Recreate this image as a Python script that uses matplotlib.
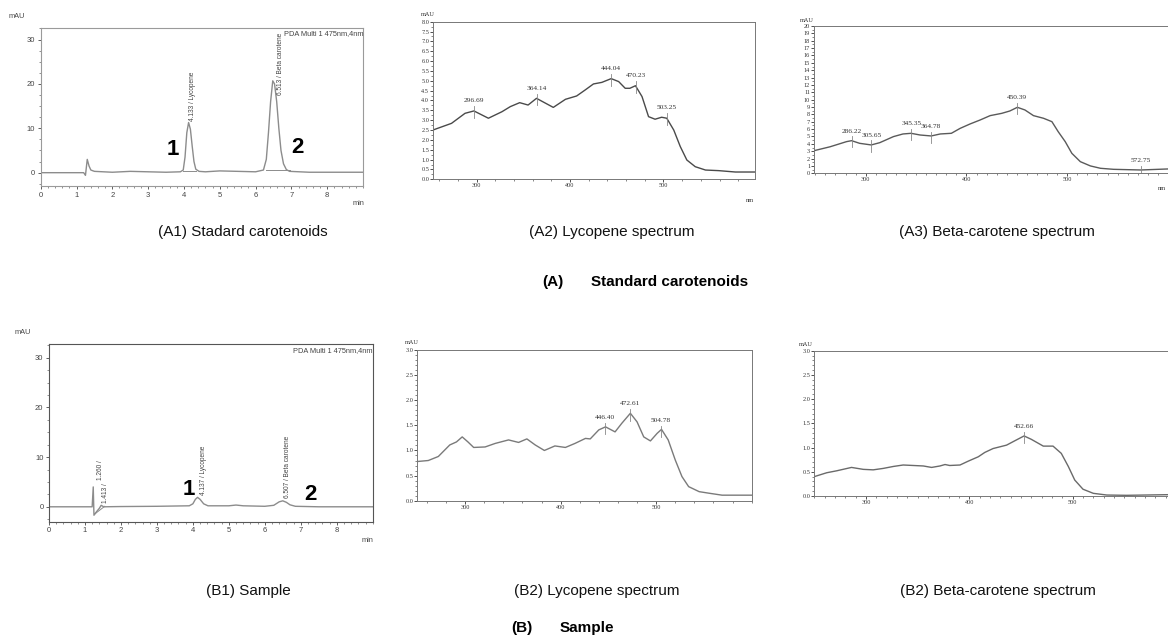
import numpy as np
import matplotlib
matplotlib.use("Agg")
import matplotlib.pyplot as plt
from matplotlib.ticker import MultipleLocator, FormatStrFormatter

# ---- chromatogram data (time in min, signal in mAU) ----
a1_time = [0.0, 1.2, 1.25, 1.3, 1.35, 1.4, 1.5, 2.0, 2.5, 3.0, 3.5, 3.9, 3.98, 4.03, 4.08,
           4.13, 4.18, 4.23, 4.28, 4.33, 4.42, 4.6, 5.0, 5.5, 6.0, 6.22, 6.3, 6.36, 6.42,
           6.48, 6.53, 6.59, 6.65, 6.71, 6.78, 6.86, 6.95, 7.5, 8.0, 9.0]
a1_signal = [0.0, 0.0, -0.6, 3.0, 1.5, 0.6, 0.3, 0.1, 0.3, 0.2, 0.1, 0.2, 0.6, 3.5, 9.0,
             11.3, 9.8, 6.0, 2.5, 0.8, 0.3, 0.2, 0.4, 0.3, 0.2, 0.6, 3.0, 9.0, 16.0,
             20.7, 20.0, 16.0, 10.0, 5.0, 2.0, 0.7, 0.3, 0.1, 0.1, 0.1]
a1_bases = [([3.98, 4.35], [0.4, 0.4]), ([6.28, 6.95], [0.5, 0.5])]

b1_time = [0.0, 1.2, 1.23, 1.25, 1.32, 1.4, 1.45, 1.52, 2.0, 3.0, 3.9, 4.0, 4.07, 4.13,
           4.2, 4.3, 4.42, 5.0, 5.2, 5.4, 6.0, 6.25, 6.4, 6.5, 6.6, 6.7, 6.85, 7.5, 9.0]
b1_signal = [0.0, 0.0, 4.0, -1.7, -1.0, -0.3, 0.3, 0.0, 0.05, 0.1, 0.2, 0.6, 1.5, 1.9,
             1.5, 0.6, 0.2, 0.2, 0.35, 0.2, 0.1, 0.3, 1.0, 1.2, 0.9, 0.4, 0.1, 0.0, 0.0]
b1_bases = [([1.28, 1.55], [-1.4, 0.1])]

# ---- spectra data (wavelength in nm, absorbance in mAU) ----
a2_wl = [253, 273, 287.5, 297, 312.5, 327, 336, 346, 355, 364, 382, 395, 407, 416, 425,
         434, 444, 452, 459, 464, 470, 477, 484, 491, 498, 503.5, 511, 518, 525, 534,
         545, 559, 577, 598]
a2_ab = [2.5, 2.84, 3.35, 3.47, 3.10, 3.43, 3.69, 3.89, 3.77, 4.11, 3.65, 4.06, 4.23, 4.53,
         4.84, 4.92, 5.11, 4.96, 4.62, 4.62, 4.75, 4.2, 3.18, 3.05, 3.15, 3.10, 2.5, 1.66,
         0.98, 0.64, 0.47, 0.44, 0.37, 0.37]
a2_peaks = [296.69, 364.14, 444.04, 470.23, 503.25]

a3_wl = [249, 264.6, 281, 286, 294, 305.5, 314, 327.5, 337, 345, 354, 365, 374, 385,
         393.7, 403.6, 413.6, 423.5, 435, 443, 450.5, 458, 466.5, 476.5, 484.8, 491,
         498, 504.6, 513, 523, 533, 546, 573, 600]
a3_ab = [3.08, 3.6, 4.3, 4.43, 4.07, 3.85, 4.16, 4.98, 5.34, 5.43, 5.2, 5.07, 5.34, 5.43,
         6.1, 6.7, 7.24, 7.83, 8.14, 8.46, 8.96, 8.6, 7.83, 7.47, 7.01, 5.66, 4.3, 2.71,
         1.58, 1.0, 0.68, 0.54, 0.45, 0.59]
a3_peaks = [286.22, 305.65, 345.35, 364.78, 450.39, 572.75]

b2_wl = [250, 261.5, 272, 284, 291, 297, 303, 309, 321, 331.5, 345.5, 356, 364.7, 373.4,
         383, 394, 405, 415, 426, 431, 440, 447, 457, 464, 473, 480, 487, 494, 501,
         505.6, 512.6, 520, 527, 534, 545, 555, 569, 583, 600]
b2_ab = [0.78, 0.80, 0.88, 1.11, 1.17, 1.27, 1.17, 1.06, 1.07, 1.14, 1.21, 1.16, 1.23, 1.11,
         1.0, 1.09, 1.06, 1.14, 1.24, 1.23, 1.41, 1.47, 1.37, 1.54, 1.74, 1.57, 1.27, 1.19,
         1.34, 1.42, 1.21, 0.81, 0.48, 0.28, 0.18, 0.15, 0.11, 0.11, 0.11]
b2_peaks = [446.40, 472.61, 504.78]

b3_wl = [250, 262, 271.6, 286, 297.4, 307, 316.8, 326.5, 336, 345.8, 355.5, 363.5, 371.6,
         376.5, 381, 391, 399, 408.7, 415, 423, 436, 445.8, 453, 460, 471.6, 481, 489,
         495.8, 502, 510, 520, 533, 552, 600]
b3_ab = [0.40, 0.48, 0.52, 0.59, 0.55, 0.54, 0.57, 0.61, 0.64, 0.63, 0.62, 0.59, 0.62,
         0.65, 0.63, 0.64, 0.72, 0.81, 0.90, 0.98, 1.05, 1.16, 1.24, 1.17, 1.03, 1.03, 0.88,
         0.61, 0.33, 0.14, 0.055, 0.02, 0.014, 0.03]
b3_peaks = [452.66]

W, H = 1168, 644
fig = plt.figure(figsize=(W / 100, H / 100), dpi=100)
SANS = ['Liberation Sans', 'DejaVu Sans']
SERIF = ['Liberation Serif', 'DejaVu Serif']


def box(l, t, r, b):
    return [l / W, 1 - b / H, (r - l) / W, (b - t) / H]


def ftext(x, y, s, **kw):
    fig.text(x / W, 1 - y / H, s, **kw)


def chrom(rect, t, y, bases, ylim, labels, nums, spine_col):
    ax = fig.add_axes(rect)
    ax.plot(t, y, color='#8c8c8c', lw=1.0, solid_joinstyle='round')
    for bx, by in bases:
        ax.plot(bx, by, color='#8c8c8c', lw=0.7)
    ax.set_xlim(0, 9)
    ax.set_ylim(*ylim)
    ax.set_xticks(range(0, 9))
    ax.set_yticks([0, 10, 20, 30])
    ax.xaxis.set_minor_locator(MultipleLocator(0.2))
    ax.yaxis.set_minor_locator(MultipleLocator(2.5))
    ax.tick_params(which='major', direction='out', length=2.5, width=0.6, labelsize=5.5,
                   pad=1.5, colors='#444')
    ax.tick_params(which='minor', direction='out', length=1.5, width=0.5, colors='#666')
    for lab in ax.get_xticklabels() + ax.get_yticklabels():
        lab.set_family(SANS)
    for s in ax.spines.values():
        s.set_color(spine_col)
        s.set_linewidth(0.8)
    for x0, y0, s in labels:
        ax.text(x0, y0, s, rotation=90, ha='center', va='bottom', fontsize=4.7,
                family=SANS, color='#444')
    for x0, y0, s in nums:
        ax.text(x0, y0, s, ha='center', va='center', fontsize=16, weight='bold',
                family=SANS, color='black')
    ax.text(1.0, 0.985, 'PDA Multi 1 475nm,4nm', transform=ax.transAxes, ha='right',
            va='top', fontsize=5.3, family=SANS, color='#444')
    return ax


def spec(rect, wl, ab, xlim, ymax, ymajor, yminor, xminor, fmt, peaks, color):
    ax = fig.add_axes(rect)
    ax.plot(wl, ab, color=color, lw=1.0, solid_joinstyle='round')
    ax.set_xlim(*xlim)
    ax.set_ylim(0, ymax)
    ax.set_xticks([300, 400, 500])
    ax.yaxis.set_major_locator(MultipleLocator(ymajor))
    ax.yaxis.set_major_formatter(FormatStrFormatter(fmt))
    ax.yaxis.set_minor_locator(MultipleLocator(yminor))
    ax.xaxis.set_minor_locator(MultipleLocator(xminor))
    ax.tick_params(which='major', direction='out', length=2, width=0.6, labelsize=4.5,
                   pad=1, colors='#333')
    ax.tick_params(which='minor', direction='out', length=1.2, width=0.5, colors='#555')
    for lab in ax.get_xticklabels() + ax.get_yticklabels():
        lab.set_family(SERIF)
    for s in ax.spines.values():
        s.set_color('#777')
        s.set_linewidth(0.7)
    for p in peaks:
        v = np.interp(p, wl, ab)
        ax.plot([p, p], [v - 0.045 * ymax, v + 0.03 * ymax], color='#888', lw=0.6)
        ax.text(p, v + 0.066 * ymax, f'{p:.2f}', ha='center', va='center', fontsize=5.3,
                family=SERIF, color='#333')
    return ax


# ---- (A) standard carotenoids ----
chrom(box(40.7, 28, 363, 186), a1_time, a1_signal, a1_bases, (-3.0, 32.6),
      [(4.23, 11.6, '4.133 / Lycopene'), (6.70, 17.5, '6.513 / Beta carotene')],
      [(3.68, 5.3, '1'), (7.18, 5.6, '2')], '#9a9a9a')
ftext(17, 16, 'mAU', fontsize=5.3, family=SANS, color='#444', ha='center', va='center')
ftext(358, 203, 'min', fontsize=5.3, family=SANS, color='#444', ha='center', va='center')

spec(box(433.3, 21.7, 755, 179.3), a2_wl, a2_ab, (253.5, 598), 8.0, 0.5, 0.25, 20,
     '%.1f', a2_peaks, '#4a4a4a')
ftext(428, 15, 'mAU', fontsize=4.5, family=SERIF, color='#333', ha='center', va='center')
ftext(750, 201, 'nm', fontsize=4.5, family=SERIF, color='#333', ha='center', va='center')

spec(box(814.3, 26, 1168, 173.3), a3_wl, a3_ab, (249, 600), 20, 1, 0.5, 10,
     '%d', a3_peaks, '#5a5a5a')
ftext(807, 20, 'mAU', fontsize=4.5, family=SERIF, color='#333', ha='center', va='center')
ftext(1162, 188, 'nm', fontsize=4.5, family=SERIF, color='#333', ha='center', va='center')

# ---- (B) sample ----
chrom(box(49, 344.3, 372.7, 521.7), b1_time, b1_signal, b1_bases, (-3.0, 32.7),
      [(1.44, 5.4, '1.260 /'), (1.56, 0.7, '1.413 /'),
       (4.30, 2.35, '4.137 / Lycopene'), (6.64, 1.7, '6.507 / Beta carotene')],
      [(3.88, 3.4, '1'), (7.27, 2.5, '2')], '#555555')
ftext(23, 333, 'mAU', fontsize=5.3, family=SANS, color='#444', ha='center', va='center')
ftext(367, 541, 'min', fontsize=5.3, family=SANS, color='#444', ha='center', va='center')

spec(box(417.3, 350, 751.7, 500.7), b2_wl, b2_ab, (250, 600), 3.0, 0.5, 0.1, 20,
     '%.1f', b2_peaks, '#7a7a7a')
ftext(412, 343, 'mAU', fontsize=4.5, family=SERIF, color='#333', ha='center', va='center')

spec(box(814.3, 350.7, 1176, 496), b3_wl, b3_ab, (250, 600), 3.0, 0.5, 0.1, 10,
     '%.1f', b3_peaks, '#6a6a6a')
ftext(806, 345, 'mAU', fontsize=4.5, family=SERIF, color='#333', ha='center', va='center')

# ---- captions ----
cap = dict(fontsize=11, family=SANS, color='#111', ha='center', va='center')
ftext(243, 232, '(A1) Stadard carotenoids', **cap)
ftext(612, 232, '(A2) Lycopene spectrum', **cap)
ftext(997, 232, '(A3) Beta-carotene spectrum', **cap)
ftext(553, 282, '(A)', fontsize=11, family=SANS, weight='bold', ha='center', va='center')
ftext(591, 282, 'Standard carotenoids', fontsize=11, family=SANS, weight='bold',
      ha='left', va='center')

ftext(248, 591, '(B1) Sample', **cap)
ftext(597, 591, '(B2) Lycopene spectrum', **cap)
ftext(998, 591, '(B2) Beta-carotene spectrum', **cap)
ftext(522, 628, '(B)', fontsize=11, family=SANS, weight='bold', ha='center', va='center')
ftext(560, 628, 'Sample', fontsize=11, family=SANS, weight='bold', ha='left', va='center')

fig.savefig('out.png', dpi=100)
